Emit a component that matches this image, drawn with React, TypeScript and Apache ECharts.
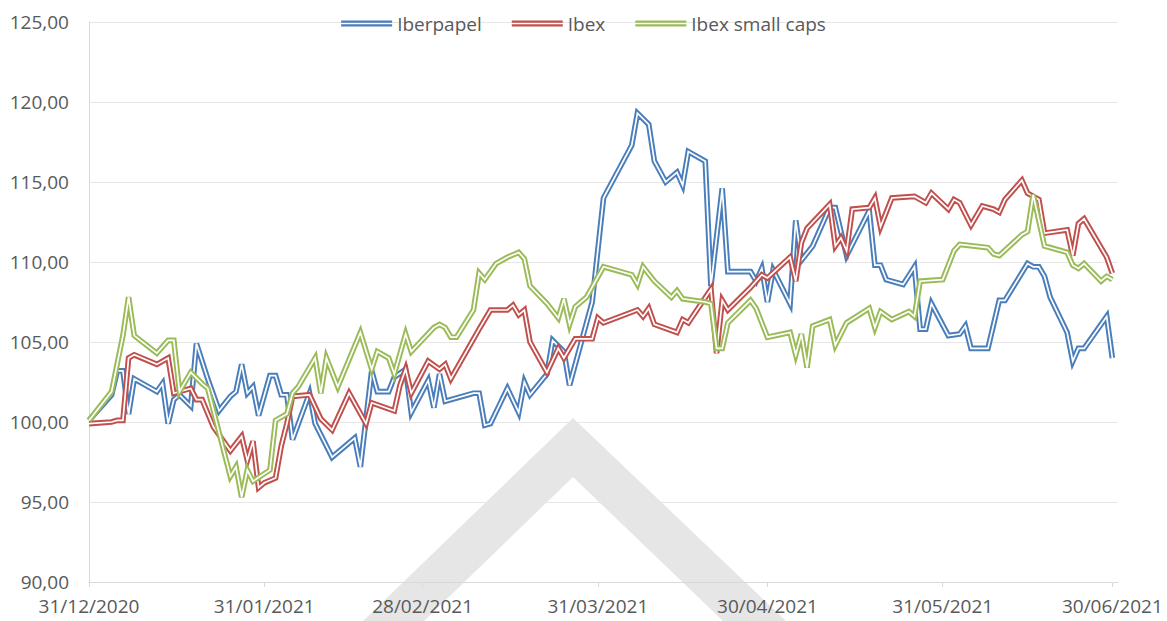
import React, { useEffect, useRef } from "react";
import * as echarts from "echarts";

const seriesNames = ["Iberpapel", "Ibex", "Ibex small caps"];
const seriesColors = ["#4a7ebb", "#c0504d", "#9bbb59"];
const axisStart = "2020-12-31";
const axisEnd = "2021-07-01";
const xTickDates = ["2020-12-31", "2021-01-31", "2021-02-28", "2021-03-31", "2021-04-30", "2021-05-31", "2021-06-30"];
const yMin = 90;
const yMax = 125;
const yStep = 5;

const iberpapel: [string, number][] = [
  ["2020-12-31", 100.1], ["2021-01-04", 101.7], ["2021-01-05", 103.2], ["2021-01-06", 103.2], ["2021-01-07", 100.5],
  ["2021-01-08", 102.7], ["2021-01-12", 101.9], ["2021-01-13", 102.4], ["2021-01-14", 99.9], ["2021-01-15", 101.4],
  ["2021-01-16", 101.7], ["2021-01-18", 101.0], ["2021-01-19", 104.9], ["2021-01-21", 102.7], ["2021-01-23", 100.7],
  ["2021-01-25", 101.6], ["2021-01-26", 101.9], ["2021-01-27", 103.6], ["2021-01-28", 101.8], ["2021-01-29", 102.2],
  ["2021-01-30", 100.4], ["2021-02-01", 102.9], ["2021-02-02", 102.9], ["2021-02-03", 101.7], ["2021-02-04", 101.7],
  ["2021-02-05", 98.9], ["2021-02-08", 101.8], ["2021-02-09", 99.9], ["2021-02-12", 97.8], ["2021-02-16", 99.0],
  ["2021-02-17", 97.2], ["2021-02-19", 103.2], ["2021-02-20", 101.9], ["2021-02-22", 101.9], ["2021-02-23", 102.8],
  ["2021-02-25", 103.3], ["2021-02-26", 100.6], ["2021-03-01", 102.6], ["2021-03-02", 100.9], ["2021-03-03", 103.0],
  ["2021-03-04", 101.3], ["2021-03-09", 101.8], ["2021-03-10", 101.8], ["2021-03-11", 99.8], ["2021-03-12", 99.9],
  ["2021-03-15", 102.1], ["2021-03-17", 100.6], ["2021-03-18", 102.5], ["2021-03-19", 101.7], ["2021-03-22", 103.0],
  ["2021-03-23", 105.1], ["2021-03-25", 104.4], ["2021-03-26", 102.3], ["2021-03-30", 107.5], ["2021-04-01", 114.0],
  ["2021-04-06", 117.3], ["2021-04-07", 119.3], ["2021-04-09", 118.6], ["2021-04-10", 116.3], ["2021-04-12", 115.0],
  ["2021-04-14", 115.6], ["2021-04-15", 114.8], ["2021-04-16", 116.9], ["2021-04-19", 116.3], ["2021-04-20", 108.5],
  ["2021-04-22", 114.6], ["2021-04-23", 109.4], ["2021-04-27", 109.4], ["2021-04-28", 108.8], ["2021-04-29", 109.6],
  ["2021-04-30", 107.5], ["2021-05-01", 109.5], ["2021-05-04", 107.4], ["2021-05-05", 112.6], ["2021-05-06", 110.1],
  ["2021-05-08", 111.0], ["2021-05-11", 113.4], ["2021-05-12", 113.4], ["2021-05-13", 111.9], ["2021-05-14", 110.4],
  ["2021-05-18", 113.2], ["2021-05-19", 109.8], ["2021-05-20", 109.8], ["2021-05-21", 108.9], ["2021-05-24", 108.6],
  ["2021-05-26", 109.7], ["2021-05-27", 105.8], ["2021-05-28", 105.8], ["2021-05-29", 107.4], ["2021-06-01", 105.4],
  ["2021-06-03", 105.5], ["2021-06-04", 106.0], ["2021-06-05", 104.6], ["2021-06-08", 104.6], ["2021-06-10", 107.6],
  ["2021-06-11", 107.6], ["2021-06-15", 109.9], ["2021-06-16", 109.7], ["2021-06-17", 109.7], ["2021-06-18", 109.1],
  ["2021-06-19", 107.8], ["2021-06-22", 105.6], ["2021-06-23", 103.8], ["2021-06-24", 104.6], ["2021-06-25", 104.6],
  ["2021-06-26", 105.1], ["2021-06-29", 106.6], ["2021-06-30", 104.0],
];

const ibex: [string, number][] = [
  ["2020-12-31", 99.9], ["2021-01-04", 100.0], ["2021-01-05", 100.1], ["2021-01-06", 100.1], ["2021-01-07", 104.0],
  ["2021-01-08", 104.2], ["2021-01-12", 103.6], ["2021-01-14", 104.0], ["2021-01-15", 101.8], ["2021-01-16", 101.9],
  ["2021-01-18", 102.1], ["2021-01-19", 101.4], ["2021-01-20", 101.4], ["2021-01-22", 99.7], ["2021-01-25", 98.2],
  ["2021-01-27", 99.1], ["2021-01-28", 97.6], ["2021-01-29", 98.8], ["2021-01-30", 95.9], ["2021-01-31", 96.2],
  ["2021-02-02", 96.5], ["2021-02-03", 98.5], ["2021-02-04", 99.9], ["2021-02-05", 101.6], ["2021-02-08", 101.7],
  ["2021-02-10", 100.2], ["2021-02-12", 99.5], ["2021-02-15", 101.8], ["2021-02-18", 99.9], ["2021-02-19", 101.2],
  ["2021-02-23", 100.7], ["2021-02-24", 102.3], ["2021-02-25", 103.3], ["2021-02-26", 101.8], ["2021-03-01", 103.8],
  ["2021-03-03", 103.3], ["2021-03-04", 103.6], ["2021-03-05", 102.7], ["2021-03-10", 105.8], ["2021-03-12", 107.0],
  ["2021-03-15", 107.0], ["2021-03-16", 107.3], ["2021-03-17", 106.7], ["2021-03-18", 107.0], ["2021-03-19", 105.0],
  ["2021-03-22", 103.1], ["2021-03-24", 104.6], ["2021-03-25", 104.0], ["2021-03-27", 105.2], ["2021-03-30", 105.2],
  ["2021-03-31", 106.5], ["2021-04-01", 106.2], ["2021-04-07", 107.0], ["2021-04-08", 106.6], ["2021-04-09", 107.1],
  ["2021-04-10", 106.1], ["2021-04-14", 105.6], ["2021-04-15", 106.4], ["2021-04-16", 106.2], ["2021-04-20", 108.3],
  ["2021-04-21", 104.3], ["2021-04-22", 107.6], ["2021-04-23", 107.0], ["2021-04-27", 108.4], ["2021-04-29", 109.2],
  ["2021-04-30", 109.0], ["2021-05-04", 110.3], ["2021-05-05", 108.8], ["2021-05-06", 111.2], ["2021-05-07", 112.1],
  ["2021-05-11", 113.6], ["2021-05-12", 111.0], ["2021-05-13", 111.5], ["2021-05-14", 110.7], ["2021-05-15", 113.3],
  ["2021-05-18", 113.4], ["2021-05-19", 114.0], ["2021-05-20", 112.2], ["2021-05-22", 114.0], ["2021-05-26", 114.1],
  ["2021-05-28", 113.7], ["2021-05-29", 114.3], ["2021-06-01", 113.3], ["2021-06-02", 113.9], ["2021-06-03", 113.7],
  ["2021-06-05", 112.3], ["2021-06-07", 113.5], ["2021-06-09", 113.3], ["2021-06-10", 113.1], ["2021-06-11", 113.9],
  ["2021-06-14", 115.1], ["2021-06-15", 114.3], ["2021-06-17", 113.9], ["2021-06-18", 111.8], ["2021-06-22", 112.0],
  ["2021-06-23", 110.4], ["2021-06-24", 112.4], ["2021-06-25", 112.7], ["2021-06-29", 110.3], ["2021-06-30", 109.3],
];

const ibexSmallCaps: [string, number][] = [
  ["2020-12-31", 100.1], ["2021-01-04", 101.9], ["2021-01-06", 105.4], ["2021-01-07", 107.8], ["2021-01-08", 105.4],
  ["2021-01-12", 104.3], ["2021-01-14", 105.1], ["2021-01-15", 105.1], ["2021-01-16", 101.9], ["2021-01-18", 103.1],
  ["2021-01-20", 102.4], ["2021-01-21", 102.1], ["2021-01-25", 96.6], ["2021-01-26", 97.2], ["2021-01-27", 95.3],
  ["2021-01-28", 97.0], ["2021-01-29", 96.3], ["2021-02-01", 97.0], ["2021-02-02", 100.1], ["2021-02-04", 100.5],
  ["2021-02-05", 101.8], ["2021-02-06", 102.2], ["2021-02-09", 104.0], ["2021-02-10", 101.8], ["2021-02-11", 104.0],
  ["2021-02-13", 102.2], ["2021-02-17", 105.6], ["2021-02-19", 103.3], ["2021-02-20", 104.4], ["2021-02-22", 104.0],
  ["2021-02-23", 103.0], ["2021-02-25", 105.5], ["2021-02-26", 104.4], ["2021-03-02", 105.9], ["2021-03-03", 106.1],
  ["2021-03-04", 105.9], ["2021-03-05", 105.3], ["2021-03-06", 105.3], ["2021-03-09", 107.0], ["2021-03-10", 109.3],
  ["2021-03-11", 108.9], ["2021-03-13", 109.9], ["2021-03-15", 110.3], ["2021-03-17", 110.6], ["2021-03-18", 110.2],
  ["2021-03-19", 108.5], ["2021-03-22", 107.4], ["2021-03-24", 106.5], ["2021-03-25", 107.7], ["2021-03-26", 106.1],
  ["2021-03-27", 107.2], ["2021-03-29", 107.8], ["2021-04-01", 109.7], ["2021-04-06", 109.2], ["2021-04-07", 108.6],
  ["2021-04-08", 109.7], ["2021-04-10", 108.8], ["2021-04-13", 107.8], ["2021-04-14", 108.2], ["2021-04-15", 107.7],
  ["2021-04-19", 107.5], ["2021-04-20", 107.4], ["2021-04-21", 104.6], ["2021-04-22", 104.6], ["2021-04-23", 106.2],
  ["2021-04-27", 107.6], ["2021-04-28", 107.1], ["2021-04-30", 105.3], ["2021-05-04", 105.6], ["2021-05-05", 104.2],
  ["2021-05-06", 105.5], ["2021-05-07", 103.4], ["2021-05-08", 106.0], ["2021-05-11", 106.4], ["2021-05-12", 104.8],
  ["2021-05-14", 106.2], ["2021-05-18", 107.1], ["2021-05-19", 105.9], ["2021-05-20", 106.9], ["2021-05-22", 106.4],
  ["2021-05-25", 106.9], ["2021-05-26", 106.6], ["2021-05-27", 108.8], ["2021-05-31", 108.9], ["2021-06-02", 110.7],
  ["2021-06-03", 111.1], ["2021-06-08", 110.9], ["2021-06-09", 110.5], ["2021-06-10", 110.4], ["2021-06-14", 111.7],
  ["2021-06-15", 111.9], ["2021-06-16", 114.2], ["2021-06-18", 111.0], ["2021-06-21", 110.7], ["2021-06-22", 110.6],
  ["2021-06-23", 109.8], ["2021-06-24", 109.6], ["2021-06-25", 109.9], ["2021-06-28", 108.8], ["2021-06-29", 109.1],
  ["2021-06-30", 108.9],
];

const allSeries = [iberpapel, ibex, ibexSmallCaps];

const DAY = 86400000;
const toUTC = (s: string) => {
  const [y, m, d] = s.split("-").map(Number);
  return Date.UTC(y, m - 1, d);
};
const BASE = toUTC(axisStart);
const dayOf = (s: string) => Math.round((toUTC(s) - BASE) / DAY);
const pad = (n: number) => (n < 10 ? "0" + n : String(n));
const fmtDay = (n: number) => {
  const dt = new Date(BASE + Math.round(n) * DAY);
  return pad(dt.getUTCDate()) + "/" + pad(dt.getUTCMonth() + 1) + "/" + dt.getUTCFullYear();
};

const FONT = "'Open Sans', 'DejaVu Sans', sans-serif";
const TEXT = "#595959";

export default function App() {
  const ref = useRef<HTMLDivElement>(null);
  useEffect(() => {
    if (!ref.current) return;
    const chart = echarts.init(ref.current, undefined, { renderer: "svg" });
    const series: any[] = [];
    allSeries.forEach((arr, i) => {
      const data = arr.map(([d, v]) => [dayOf(d), v]);
      series.push({
        name: seriesNames[i],
        type: "line",
        data,
        showSymbol: false,
        symbol: "none",
        silent: true,
        itemStyle: { color: seriesColors[i] },
        lineStyle: { color: seriesColors[i], width: 5.6, join: "miter", miterLimit: 4, cap: "butt" },
        z: 3 + i * 2,
      });
      series.push({
        name: seriesNames[i] + " ",
        type: "line",
        data,
        showSymbol: false,
        symbol: "none",
        silent: true,
        itemStyle: { color: "#ffffff" },
        lineStyle: { color: "#ffffff", width: 1.7, join: "miter", miterLimit: 4, cap: "butt" },
        z: 4 + i * 2,
      });
    });
    const tickDays = xTickDates.map(dayOf);
    chart.setOption({
      animation: false,
      backgroundColor: "#ffffff",
      textStyle: { fontFamily: FONT },
      graphic: [
        {
          type: "polygon",
          z: -10,
          silent: true,
          shape: {
            points: [
              [363, 621],
              [573, 418],
              [786, 621],
              [723, 621],
              [573, 477],
              [424, 621],
            ],
          },
          style: { fill: "rgba(200,200,200,0.45)" },
        },
      ],
      legend: {
        data: seriesNames,
        top: 9,
        left: "center",
        itemGap: 30,
        itemWidth: 51,
        itemHeight: 6,
        icon: "path://M0,0H51V2.2H0Z M0,3.8H51V6H0Z",
        textStyle: { color: TEXT, fontSize: 19, fontFamily: FONT },
      },
      grid: { left: 89, right: 49, top: 22, bottom: 39, containLabel: false },
      xAxis: {
        type: "value",
        min: 0,
        max: dayOf(axisEnd),
        axisLine: { show: true, lineStyle: { color: "#d9d9d9", width: 1 } },
        axisTick: { show: true, customValues: tickDays, length: 5, lineStyle: { color: "#d9d9d9" } },
        axisLabel: {
          customValues: tickDays,
          formatter: (v: number) => fmtDay(v),
          color: TEXT,
          fontSize: 19,
          fontFamily: FONT,
          margin: 14,
        },
        splitLine: { show: false },
      },
      yAxis: {
        type: "value",
        min: yMin,
        max: yMax,
        interval: yStep,
        axisLine: { show: true, lineStyle: { color: "#d9d9d9", width: 1 } },
        axisTick: { show: false },
        axisLabel: {
          formatter: (v: number) => v.toFixed(2).replace(".", ","),
          color: TEXT,
          fontSize: 19,
          fontFamily: FONT,
          margin: 20,
        },
        splitLine: { show: true, lineStyle: { color: "#e6e6e6", width: 1 } },
      },
      series,
    });
    return () => chart.dispose();
  }, []);
  return (
    <div
      ref={ref}
      style={{ position: "absolute", left: 0, top: 0, width: 1167, height: 621 }}
    />
  );
}
